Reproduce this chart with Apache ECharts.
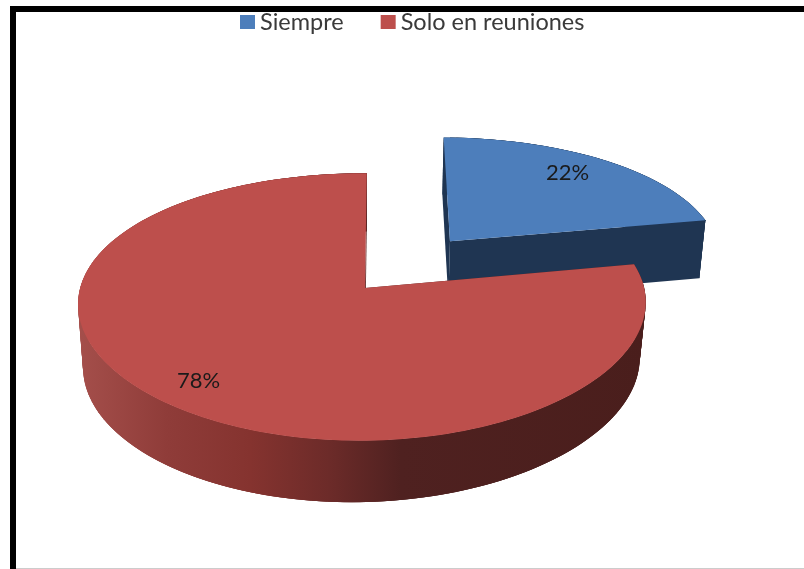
<!DOCTYPE html>
<html>
<head>
<meta charset="utf-8">
<style>
html, body { margin: 0; padding: 0; background: #fff; }
#main { width: 804px; height: 569px; }
</style>
<script src="https://cdn.jsdelivr.net/npm/echarts@6/dist/echarts.min.js"></script>
</head>
<body>
<div id="main"></div>
<script>
var categories = ['Siempre', 'Solo en reuniones'];
var values = [22, 78];
var explode = [0.49, 0];
var topColors = ['#4D7EBB', '#BD4F4C'];
var labelNudge = [[-11, 0], [-3, 0]];

var total = values.reduce(function (a, b) { return a + b; }, 0);

// rough perspective of the tilted disc: u right, v towards viewer, z down
var view = {
    ox: 365, oy: 288, rx: 282, ky: 131, kz: 61,
    p: 0.142, q: 0.02, r: 0.01,
    sh: -2, skew: -8, shLow: -6, kyLow: 0.03
};
function project(u, v, z) {
    var w = 1 - view.p * v + view.r * u + view.q * z;
    // the lower rim leans left only on the near side
    var lean = view.sh * v + view.shLow * z * Math.max(v, 0);
    return [
        view.ox + (view.rx * u + lean + view.skew * u * v) / w,
        view.oy + (view.ky * (1 - view.kyLow * z) * v + view.kz * z) / w
    ];
}

function sliceGeometry(index) {
    var before = 0;
    for (var i = 0; i < index; i++) {
        before += values[i];
    }
    var start = before / total * Math.PI * 2;
    var end = (before + values[index]) / total * Math.PI * 2;
    var mid = (start + end) / 2;
    return {
        start: start,
        end: end,
        mid: mid,
        cu: explode[index] * Math.sin(mid),
        cv: -explode[index] * Math.cos(mid)
    };
}

function arcPoints(g, z) {
    var pts = [];
    var steps = Math.ceil((g.end - g.start) / (Math.PI / 120));
    for (var i = 0; i <= steps; i++) {
        var a = g.start + (g.end - g.start) * i / steps;
        pts.push(project(g.cu + Math.sin(a), g.cv - Math.cos(a), z));
    }
    return pts;
}

var wallFills = [
    '#1F3552',
    {
        type: 'linear', global: true, x: 77, y: 0, x2: 645, y2: 0,
        colorStops: [
            { offset: 0, color: '#A54F4B' },
            { offset: 0.16, color: '#8F3C39' },
            { offset: 0.305, color: '#85332F' },
            { offset: 0.445, color: '#6C2B29' },
            { offset: 0.57, color: '#4F2120' },
            { offset: 1, color: '#4A1E1C' }
        ]
    }
];

function renderSlice(params, api) {
    var index = params.seriesIndex;
    var g = sliceGeometry(index);
    var top = arcPoints(g, 0);
    var low = arcPoints(g, 1);
    var apexTop = project(g.cu, g.cv, 0);
    var apexLow = project(g.cu, g.cv, 1);
    var fill = wallFills[index];
    var children = [];
    // side wall as overlapping quads, the overlap hides the seams
    for (var i = 0; i < top.length - 1; i++) {
        var j = Math.min(i + 3, top.length - 1);
        children.push({
            type: 'polygon',
            shape: { points: [top[i], top[j], low[j], low[i]] },
            style: { fill: fill }
        });
    }
    children.push({
        type: 'polygon',
        shape: { points: [apexTop, top[0], low[0], apexLow] },
        style: { fill: fill }
    });
    children.push({
        type: 'polygon',
        shape: { points: [apexTop, top[top.length - 1], low[low.length - 1], apexLow] },
        style: { fill: fill }
    });
    children.push({
        type: 'polygon',
        shape: { points: [apexTop].concat(top) },
        style: { fill: topColors[index] }
    });
    var labelAt = project(
        g.cu + 0.83 * Math.sin(g.mid),
        g.cv - 0.83 * Math.cos(g.mid),
        0
    );
    children.push({
        type: 'text',
        style: {
            x: labelAt[0] + labelNudge[index][0],
            y: labelAt[1] + labelNudge[index][1],
            text: Math.round(api.value(0) / total * 100) + '%',
            align: 'center',
            verticalAlign: 'middle',
            fontFamily: 'Lato',
            fontSize: 22,
            fill: '#1A1A1A'
        }
    });
    return { type: 'group', children: children };
}

var myChart = echarts.init(document.getElementById('main'), null, { renderer: 'canvas' });
var option = {
    backgroundColor: '#fff',
    animation: false,
    legend: {
        left: 235,
        top: 5,
        icon: 'rect',
        itemWidth: 15,
        itemHeight: 14,
        itemGap: 37,
        textStyle: {
            fontFamily: 'Lato',
            fontSize: 23.5,
            color: '#3A3A3A'
        },
        data: categories
    },
    graphic: [
        { type: 'rect', shape: { x: 10, y: 6, width: 794, height: 6 }, style: { fill: '#000' } },
        { type: 'rect', shape: { x: 10, y: 6, width: 6, height: 563 }, style: { fill: '#000' } },
        { type: 'rect', shape: { x: 16, y: 568, width: 788, height: 1 }, style: { fill: '#ccc' } }
    ],
    series: categories.map(function (name, i) {
        return {
            type: 'custom',
            name: name,
            coordinateSystem: 'none',
            renderItem: renderSlice,
            itemStyle: { color: topColors[i] },
            data: [values[i]]
        };
    })
};
myChart.setOption(option);
</script>
</body>
</html>
